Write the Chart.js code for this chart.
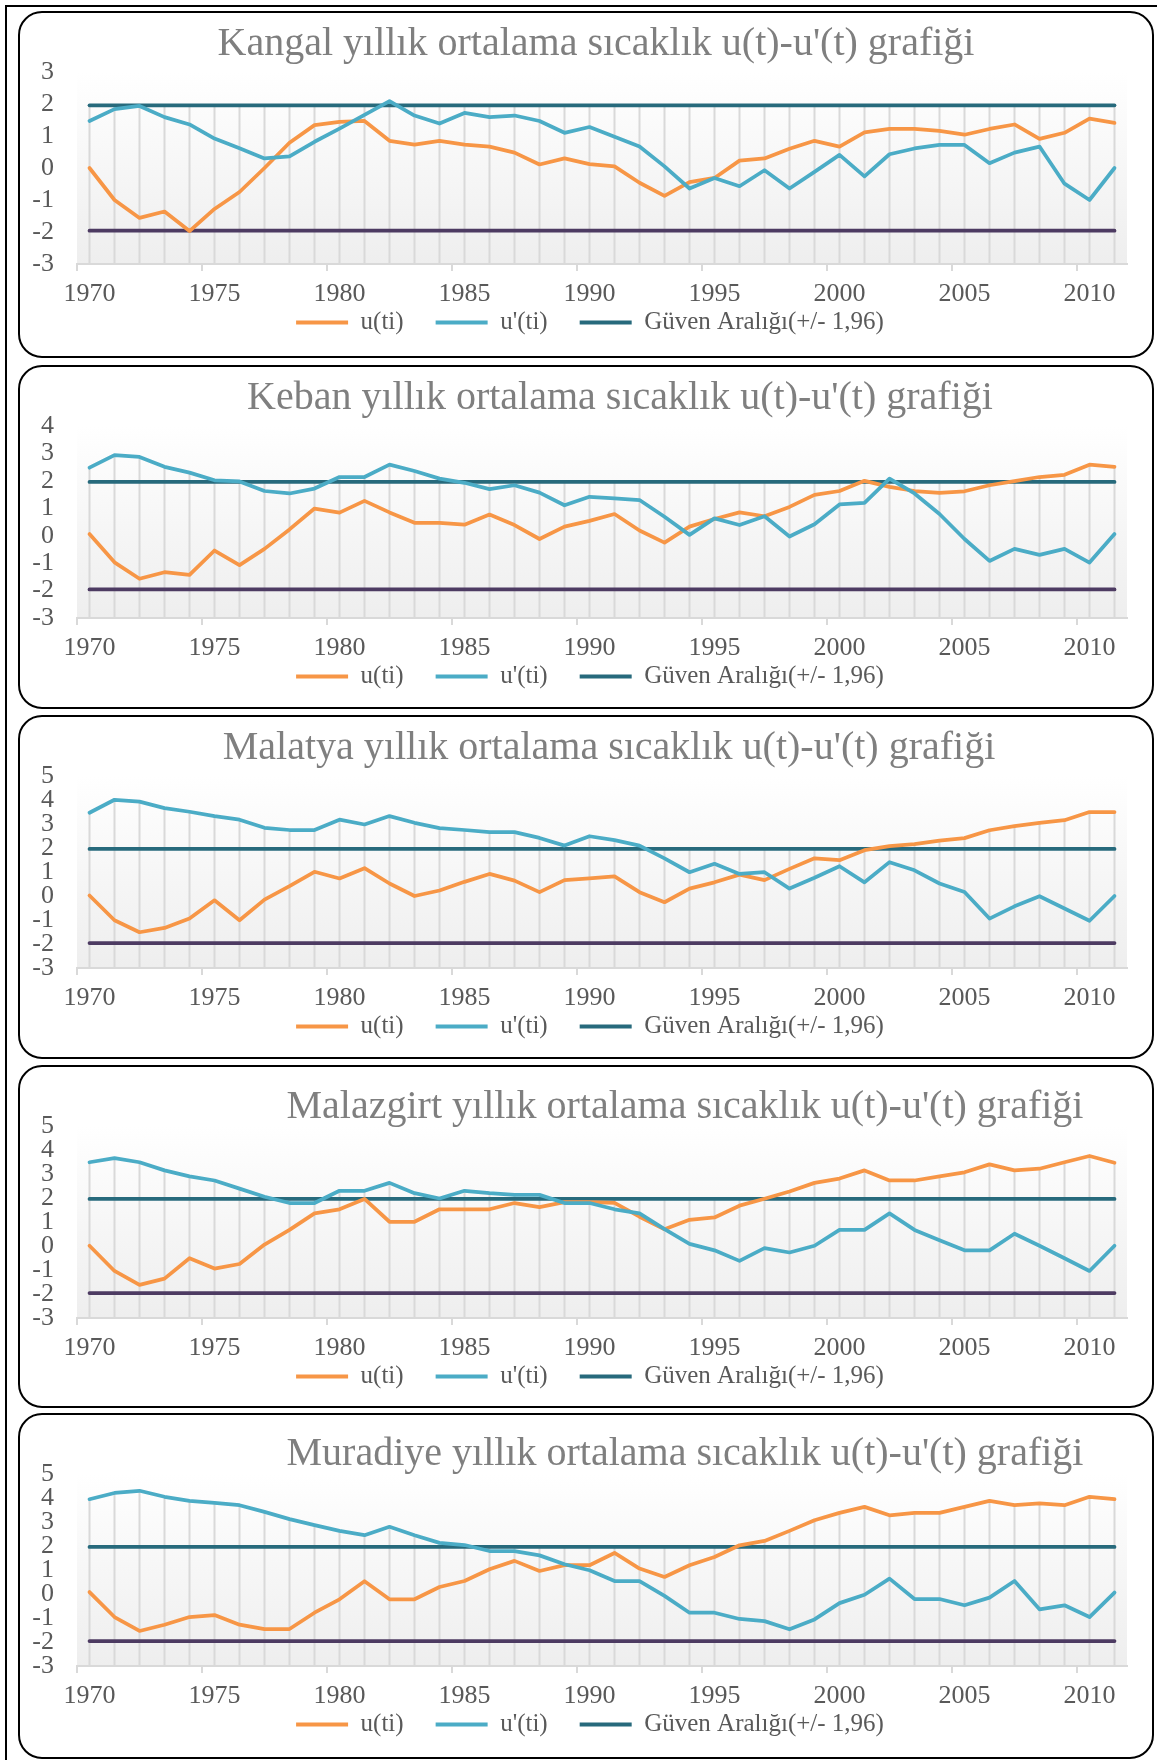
<!DOCTYPE html>
<html>
<head>
<meta charset="utf-8">
<script src="https://cdn.jsdelivr.net/npm/chart.js@4.4.1/dist/chart.umd.min.js"></script>
<style>
  html, body { margin: 0; padding: 0; background: #fff; width: 1157px; height: 1760px; overflow: hidden; position: relative; }
  .frame { position: absolute; left: 5px; top: 5px; width: 1200px; height: 1800px; border: 2px solid #000; }
  .panel { position: absolute; left: 18px; width: 1136px; border: 2px solid #000; border-radius: 24px; box-sizing: border-box; background: #fff; }
  .title { position: absolute; width: 1000px; text-align: center; font-family: 'Liberation Serif', serif; font-size: 40px; line-height: 46px; color: #7f7f7f; white-space: nowrap; }
  canvas { position: absolute; left: 0; }
</style>
</head>
<body>
<div class="frame"></div>
<script>
const years = ['1970','1971','1972','1973','1974','1975','1976','1977','1978','1979',
  '1980','1981','1982','1983','1984','1985','1986','1987','1988','1989',
  '1990','1991','1992','1993','1994','1995','1996','1997','1998','1999',
  '2000','2001','2002','2003','2004','2005','2006','2007','2008','2009',
  '2010','2011'];

const stations = ['Kangal', 'Keban', 'Malatya', 'Malazgirt', 'Muradiye'];
const titles = stations.map(s => s + " yıllık ortalama sıcaklık u(t)-u'(t) grafiği");
const seriesNames = ['u(ti)', "u'(ti)", 'Güven Aralığı(+/- 1,96)'];
const bound = 1.96;
const yMin = [-3, -3, -3, -3, -3];
const yMax = [3, 4, 5, 5, 5];

const kangalU = [0, -1.0, -1.56, -1.36, -1.97, -1.28, -0.75, 0.0, 0.79, 1.34, 1.44, 1.47, 0.85, 0.73, 0.85, 0.73, 0.67, 0.48, 0.11, 0.30, 0.12, 0.05, -0.46, -0.87, -0.44, -0.31, 0.23, 0.30, 0.60, 0.85, 0.67, 1.11, 1.22, 1.22, 1.16, 1.04, 1.22, 1.36, 0.91, 1.10, 1.54, 1.41];
const kangalU2 = [1.47, 1.84, 1.94, 1.59, 1.36, 0.92, 0.62, 0.30, 0.36, 0.82, 1.23, 1.66, 2.09, 1.64, 1.39, 1.72, 1.59, 1.64, 1.47, 1.10, 1.28, 0.98, 0.67, 0.05, -0.64, -0.31, -0.57, -0.07, -0.64, -0.12, 0.41, -0.26, 0.43, 0.61, 0.72, 0.72, 0.15, 0.48, 0.67, -0.49, -1.0, 0.0];

const kebanU = [0.06, -0.97, -1.57, -1.33, -1.43, -0.54, -1.07, -0.48, 0.23, 0.99, 0.84, 1.27, 0.85, 0.47, 0.47, 0.40, 0.77, 0.39, -0.12, 0.33, 0.54, 0.79, 0.19, -0.25, 0.33, 0.61, 0.85, 0.71, 1.05, 1.49, 1.63, 2.0, 1.78, 1.63, 1.56, 1.62, 1.84, 1.99, 2.14, 2.22, 2.59, 2.51];
const kebanU2 = [2.48, 2.94, 2.87, 2.51, 2.30, 2.02, 1.98, 1.63, 1.54, 1.72, 2.14, 2.14, 2.59, 2.36, 2.08, 1.93, 1.70, 1.84, 1.57, 1.11, 1.42, 1.36, 1.30, 0.69, 0.03, 0.63, 0.39, 0.71, -0.03, 0.42, 1.14, 1.20, 2.08, 1.54, 0.79, -0.12, -0.92, -0.48, -0.70, -0.48, -0.98, 0.06];

const malatyaU = [0.02, -1.01, -1.51, -1.33, -0.94, -0.18, -1.01, -0.15, 0.41, 1.01, 0.73, 1.16, 0.52, 0.0, 0.23, 0.59, 0.92, 0.64, 0.16, 0.66, 0.73, 0.82, 0.16, -0.26, 0.31, 0.57, 0.89, 0.66, 1.13, 1.57, 1.49, 1.91, 2.08, 2.16, 2.31, 2.41, 2.74, 2.91, 3.05, 3.16, 3.50, 3.50];
const malatyaU2 = [3.47, 4.01, 3.93, 3.66, 3.51, 3.33, 3.18, 2.84, 2.75, 2.75, 3.18, 2.98, 3.33, 3.05, 2.83, 2.75, 2.66, 2.66, 2.42, 2.10, 2.49, 2.33, 2.10, 1.57, 0.99, 1.34, 0.92, 0.99, 0.31, 0.76, 1.24, 0.57, 1.41, 1.07, 0.52, 0.17, -0.94, -0.43, -0.01, -0.52, -1.03, 0.0];

const malazgirtU = [0.01, -1.04, -1.62, -1.36, -0.51, -0.94, -0.75, 0.06, 0.67, 1.36, 1.53, 1.96, 1.01, 1.01, 1.53, 1.53, 1.53, 1.79, 1.62, 1.83, 1.83, 1.80, 1.22, 0.70, 1.09, 1.19, 1.68, 1.97, 2.27, 2.63, 2.81, 3.15, 2.73, 2.73, 2.90, 3.07, 3.40, 3.15, 3.22, 3.49, 3.75, 3.47];
const malazgirtU2 = [3.49, 3.66, 3.49, 3.15, 2.90, 2.73, 2.39, 2.05, 1.79, 1.79, 2.30, 2.30, 2.63, 2.20, 1.98, 2.30, 2.20, 2.13, 2.13, 1.79, 1.79, 1.53, 1.36, 0.70, 0.09, -0.18, -0.62, -0.09, -0.27, 0.01, 0.67, 0.67, 1.36, 0.67, 0.24, -0.18, -0.18, 0.51, 0.01, -0.51, -1.04, 0.01];

const muradiyeU = [0.08, -0.96, -1.54, -1.28, -0.96, -0.88, -1.28, -1.46, -1.46, -0.78, -0.22, 0.53, -0.22, -0.22, 0.29, 0.54, 1.03, 1.38, 0.96, 1.20, 1.20, 1.71, 1.06, 0.71, 1.20, 1.54, 2.03, 2.21, 2.63, 3.07, 3.38, 3.63, 3.28, 3.38, 3.38, 3.63, 3.88, 3.70, 3.78, 3.70, 4.05, 3.95];
const muradiyeU2 = [3.95, 4.21, 4.30, 4.05, 3.88, 3.80, 3.70, 3.42, 3.12, 2.87, 2.63, 2.45, 2.80, 2.45, 2.13, 2.04, 1.79, 1.79, 1.61, 1.24, 0.99, 0.54, 0.54, -0.08, -0.78, -0.78, -1.04, -1.13, -1.47, -1.06, -0.38, -0.03, 0.64, -0.21, -0.21, -0.47, -0.15, 0.54, -0.64, -0.47, -0.96, 0.06];

const uSeries = [kangalU, kebanU, malatyaU, malazgirtU, muradiyeU];
const u2Series = [kangalU2, kebanU2, malatyaU2, malazgirtU2, muradiyeU2];

// page layout of the five framed charts (px)
const panels = [
  { top: 11, height: 347, titleX: 596, titleBase: 55.5 },
  { top: 365, height: 344, titleX: 620, titleBase: 409.5 },
  { top: 715, height: 344, titleX: 609, titleBase: 759.5 },
  { top: 1065, height: 343, titleX: 685, titleBase: 1118 },
  { top: 1413, height: 346, titleX: 685, titleBase: 1465 }
];

const ORANGE = '#f79646', BLUE = '#4bacc6', TEAL = '#276a7c', PURPLE = '#4d3b62', GRAY = '#d9d9d9';

Chart.defaults.font.family = "'Liberation Serif', serif";
Chart.defaults.color = '#595959';

// plot area: light vertical gradient
const plotBg = {
  id: 'plotBg',
  beforeDraw(chart) {
    const { ctx, chartArea: a } = chart;
    const g = ctx.createLinearGradient(0, a.top, 0, a.bottom);
    g.addColorStop(0, '#ffffff');
    g.addColorStop(1, '#eeeeee');
    ctx.save();
    ctx.fillStyle = g;
    ctx.fillRect(a.left, a.top, a.right - a.left, a.bottom - a.top);
    ctx.restore();
  }
};

// excel style drop lines: from the highest series value down to the axis
const dropLines = {
  id: 'dropLines',
  beforeDatasetsDraw(chart) {
    const { ctx, chartArea, scales: { x, y } } = chart;
    ctx.save();
    ctx.strokeStyle = GRAY;
    ctx.lineWidth = 2;
    chart.data.labels.forEach((lab, i) => {
      const top = Math.max(...chart.data.datasets.map(d => d.data[i]));
      const px = x.getPixelForValue(i);
      ctx.beginPath();
      ctx.moveTo(px, y.getPixelForValue(top));
      ctx.lineTo(px, chartArea.bottom);
      ctx.stroke();
    });
    ctx.restore();
  }
};

// axis boxes are kept tight, so let the tick labels draw outside them
const noLabelClip = s => { s._computeLabelArea = () => undefined; };

const lineDs = (label, data, color, order) => ({
  label, data, order,
  borderColor: color, backgroundColor: color,
  borderWidth: 3.75, pointRadius: 0, tension: 0,
  borderJoinStyle: 'round', borderCapStyle: 'round', fill: false
});

panels.forEach((p, k) => {
  const box = document.createElement('div');
  box.className = 'panel';
  box.style.top = p.top + 'px';
  box.style.height = p.height + 'px';
  document.body.appendChild(box);

  const cv = document.createElement('canvas');
  cv.width = 1157;
  cv.height = 334;
  cv.style.top = p.top + 'px';
  document.body.appendChild(cv);

  const t = document.createElement('div');
  t.className = 'title';
  t.textContent = titles[k];
  t.style.left = (p.titleX - 500) + 'px';
  t.style.top = (p.titleBase - 36.5) + 'px';
  document.body.appendChild(t);

  new Chart(cv, {
    type: 'line',
    data: {
      labels: years,
      datasets: [
        lineDs(seriesNames[0], uSeries[k], ORANGE, 1),
        lineDs(seriesNames[1], u2Series[k], BLUE, 0),
        lineDs(seriesNames[2], years.map(() => bound), TEAL, 2),
        lineDs('alt sınır', years.map(() => -bound), PURPLE, 2)
      ]
    },
    options: {
      responsive: false,
      animation: false,
      layout: { padding: { left: 53, right: 30, top: 61, bottom: 0 } },
      plugins: {
        title: { display: false },
        tooltip: { enabled: false },
        legend: {
          position: 'bottom',
          labels: {
            boxWidth: 52,
            boxHeight: 4,
            padding: 32,
            color: '#595959',
            font: { size: 25 },
            filter: item => item.datasetIndex < 3,
            sort: (a, b) => a.datasetIndex - b.datasetIndex,
            generateLabels: chart => Chart.defaults.plugins.legend.labels.generateLabels(chart)
              .map(l => Object.assign(l, { lineWidth: 0 }))
          }
        }
      },
      scales: {
        x: {
          offset: true,
          grid: {
            offset: true,
            drawOnChartArea: false,
            drawTicks: true,
            tickLength: 7,
            lineWidth: 2,
            color: c => (c.index % 5 === 0 ? GRAY : 'rgba(0,0,0,0)')
          },
          border: { display: true, color: GRAY, width: 2 },
          ticks: {
            autoSkip: false,
            maxRotation: 0,
            padding: 7.5,
            color: '#595959',
            font: { size: 26 },
            callback: (v, i) => (i % 5 === 0 ? years[i] : '')
          },
          afterFit: s => { s.height = 14; noLabelClip(s); }
        },
        y: {
          min: yMin[k],
          max: yMax[k],
          grid: { display: false, drawTicks: false },
          border: { display: false },
          ticks: { stepSize: 1, autoSkip: false, padding: 23, color: '#595959', font: { size: 26 } },
          afterFit: s => { s.width = 24; noLabelClip(s); }
        }
      }
    },
    plugins: [plotBg, dropLines]
  });
});
</script>
</body>
</html>
